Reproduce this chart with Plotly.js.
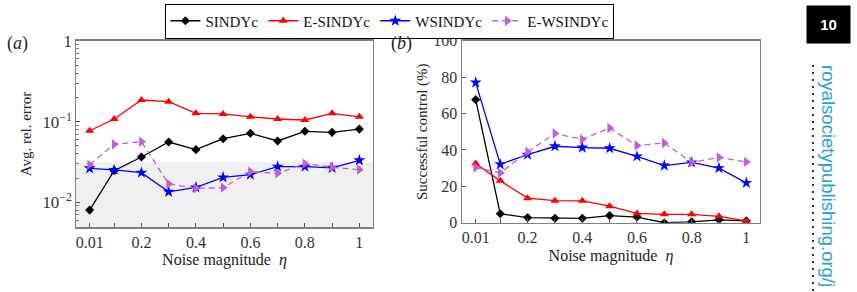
<!DOCTYPE html>
<html><head><meta charset="utf-8">
<script src="https://cdn.plot.ly/plotly-3.0.1.min.js"></script>
<style>html,body{margin:0;padding:0;background:#fff}#chart{width:857px;height:292px}</style>
</head><body><div id="chart"></div>
<script>
// ---- data ----
const noise = [0.01, 0.1, 0.2, 0.3, 0.4, 0.5, 0.6, 0.7, 0.8, 0.9, 1];
const xTickVals = [0.01, 0.2, 0.4, 0.6, 0.8, 1];
const xTickText = ["0.01", "0.2", "0.4", "0.6", "0.8", "1"];
const xMinorTicks = [0.1, 0.3, 0.5, 0.7, 0.9];
const seriesNames = ["SINDYc", "E-SINDYc", "WSINDYc", "E-WSINDYc"];
// (a) average relative error
const errSINDYc   = [0.0080, 0.0247, 0.0365, 0.056, 0.045, 0.0615, 0.0718, 0.0577, 0.076, 0.0738, 0.081];
const errESINDYc  = [0.0773, 0.108, 0.186, 0.177, 0.127, 0.125, 0.115, 0.108, 0.105, 0.127, 0.115];
const errWSINDYc  = [0.0264, 0.0252, 0.0233, 0.0135, 0.0153, 0.0204, 0.022, 0.0277, 0.0277, 0.0268, 0.0332];
const errEWSINDYc = [0.0293, 0.0524, 0.0565, 0.0169, 0.0149, 0.0152, 0.024, 0.0229, 0.0302, 0.0272, 0.0254];
const errThreshold = 0.0313;
// (b) successful control (%)
const succSINDYc   = [67.6, 4.9, 2.8, 2.4, 2.4, 3.9, 3.1, 0.0, 0.5, 1.6, 1.0];
const succESINDYc  = [32.5, 23.0, 13.5, 12.1, 12.0, 9.1, 5.1, 4.6, 4.6, 3.5, 1.0];
const succWSINDYc  = [77.0, 32.1, 37.4, 42.0, 41.3, 40.9, 36.4, 31.4, 33.1, 30.0, 21.9];
const succEWSINDYc = [30.3, 27.4, 38.9, 49.0, 45.8, 52.0, 42.4, 43.8, 33.2, 35.8, 33.4];

// ---- styles ----
const styles = [
  {color: '#000000', symbol: 'diamond', size: 7, dash: 'solid'},
  {color: '#ff0000', symbol: 'triangle-up', size: 8, dash: 'solid'},
  {color: '#0000ff', symbol: 'star', size: 9, dash: 'solid'},
  {color: '#bf5fd6', symbol: 'triangle-right', size: 9, dash: '6px,4px'}
];
const errSeries = [errSINDYc, errESINDYc, errWSINDYc, errEWSINDYc];
const succSeries = [succSINDYc, succESINDYc, succWSINDYc, succEWSINDYc];

const traces = [];
errSeries.forEach((ys, i) => {
  const s = styles[i];
  traces.push({x: noise, y: ys, xaxis: 'x', yaxis: 'y', type: 'scatter', mode: 'lines+markers',
    name: seriesNames[i], legendgroup: seriesNames[i], showlegend: true,
    line: {color: s.color, width: 1.3, dash: s.dash},
    marker: {color: s.color, symbol: s.symbol, size: s.size}});
});
succSeries.forEach((ys, i) => {
  const s = styles[i];
  traces.push({x: noise, y: ys, xaxis: 'x2', yaxis: 'y2', type: 'scatter', mode: 'lines+markers',
    name: seriesNames[i], legendgroup: seriesNames[i], showlegend: false,
    line: {color: s.color, width: 1.3, dash: s.dash},
    marker: {color: s.color, symbol: s.symbol, size: s.size}});
});

const serif = 'Liberation Serif';
const sans = 'Liberation Sans';
const axisCommon = {
  showline: true, linecolor: '#808080', linewidth: 1.5, mirror: true,
  ticks: 'inside', ticklen: 4, tickcolor: '#555', showgrid: false, zeroline: false,
  tickfont: {family: serif, size: 16, color: '#333'}
};
const xMinor = {ticks: 'inside', ticklen: 4, tickcolor: '#555', tickmode: 'array', tickvals: xMinorTicks};

const layout = {
  width: 857, height: 292,
  margin: {l: 0, r: 0, t: 0, b: 0},
  paper_bgcolor: '#fff', plot_bgcolor: '#fff',
  font: {family: serif, color: '#222'},
  showlegend: true,
  legend: {orientation: 'h', x: 0.455, xanchor: 'center', y: 0.988, yanchor: 'top',
    bordercolor: '#000', borderwidth: 1, bgcolor: '#fff',
    font: {family: serif, size: 15, color: '#111'}, itemwidth: 30, tracegroupgap: 0},
  xaxis: Object.assign({}, axisCommon, {domain: [0.0887, 0.4352], range: [-0.04, 1.05],
    tickmode: 'array', tickvals: xTickVals, ticktext: xTickText, minor: xMinor, anchor: 'y',
    title: {text: 'Noise magnitude  <i>η</i>', font: {family: serif, size: 16, color: '#222'}, standoff: 4}}),
  yaxis: Object.assign({}, axisCommon, {domain: [0.2216, 0.8606], type: 'log', range: [-2.31, 0.005],
    dtick: 1, exponentformat: 'power', anchor: 'x',
    tickfont: {family: serif, size: 13.5, color: '#333'},
    minor: {ticks: 'inside', ticklen: 2.5, tickcolor: '#777'},
    title: {text: 'Avg. rel. error', font: {family: serif, size: 15, color: '#222'}, standoff: 7}}),
  xaxis2: Object.assign({}, axisCommon, {domain: [0.5391, 0.8868], range: [-0.04, 1.05],
    tickmode: 'array', tickvals: xTickVals, ticktext: xTickText, minor: xMinor, anchor: 'y2',
    title: {text: 'Noise magnitude  <i>η</i>', font: {family: serif, size: 16, color: '#222'}, standoff: 4}}),
  yaxis2: Object.assign({}, axisCommon, {domain: [0.2373, 0.8606], range: [0, 100],
    dtick: 20, anchor: 'x2',
    title: {text: 'Successful control (%)', font: {family: serif, size: 15, color: '#222'}, standoff: 2}}),
  shapes: [
    {type: 'rect', xref: 'x domain', yref: 'y', x0: 0, x1: 1, y0: 0.001, y1: errThreshold,
     fillcolor: '#f0f0f0', line: {width: 0}, layer: 'below'},
    {type: 'line', xref: 'paper', yref: 'paper', x0: 813/857, x1: 813/857, y0: 1 - 65/292, y1: 0,
     line: {color: '#333', width: 2, dash: '2px,5px'}}
  ],
  annotations: [
    {text: '(<i>a</i>)', xref: 'paper', yref: 'paper', x: 17/857, y: 1 - 43/292, xanchor: 'center', yanchor: 'middle',
     showarrow: false, font: {family: serif, size: 18, color: '#222'}},
    {text: '(<i>b</i>)', xref: 'paper', yref: 'paper', x: 401/857, y: 1 - 43/292, xanchor: 'center', yanchor: 'middle',
     showarrow: false, font: {family: serif, size: 18, color: '#222'}},
    {text: '<b>10</b>', xref: 'paper', yref: 'paper', x: 828.5/857, y: 1 - 24.5/292, xanchor: 'center', yanchor: 'middle',
     showarrow: false, bgcolor: '#000', width: 39, height: 33, borderpad: 2,
     font: {family: sans, size: 15, color: '#fff'}},
    {text: 'royalsocietypublishing.org/j', xref: 'paper', yref: 'paper', x: 829/857, y: 1 - 63/292,
     xanchor: 'center', yanchor: 'top', textangle: 90, showarrow: false,
     font: {family: sans, size: 18.5, color: '#2a9fd6'}}
  ]
};

Plotly.newPlot('chart', traces, layout, {staticPlot: true, displayModeBar: false});
</script>
</body></html>
